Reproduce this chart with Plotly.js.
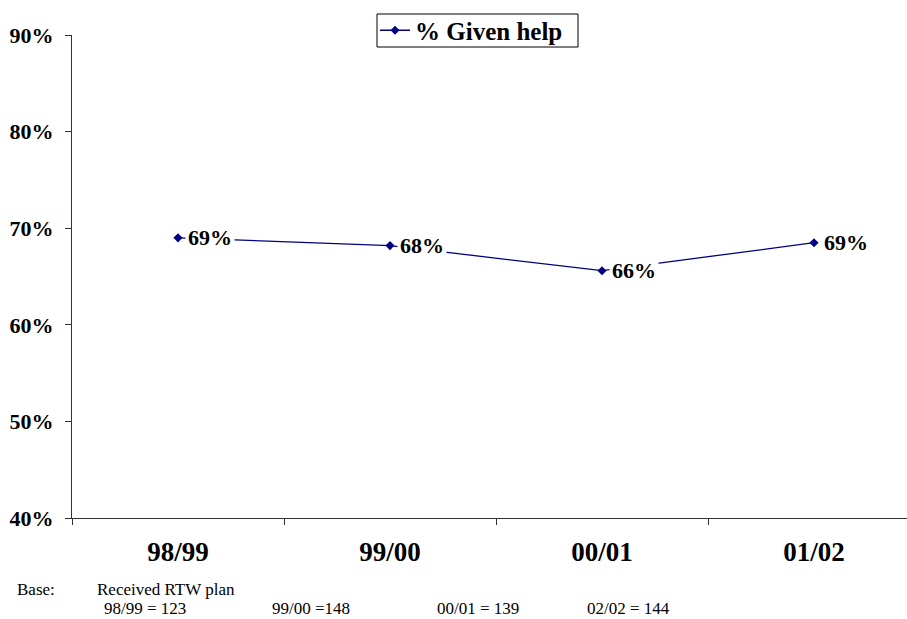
<!DOCTYPE html>
<html><head><meta charset="utf-8">
<script src="https://cdn.plot.ly/plotly-3.0.1.min.js"></script>
<style>html,body{margin:0;padding:0;background:#fff}#chart{width:907px;height:619px}</style>
</head><body><div id="chart"></div>
<script>
const categories = ["98/99", "99/00", "00/01", "01/02"];
const givenHelp = [69.0, 68.2, 65.6, 68.5];
const valueLabels = ["69%", "68%", "66%", "69%"];
const yTicks = [40, 50, 60, 70, 80, 90];
const yTickLabels = ["40%", "50%", "60%", "70%", "80%", "90%"];
const seriesName = "% Given help";
const baseLabel = "Base:";
const baseTitle = "Received RTW plan";
const baseCounts = ["98/99 = 123", "99/00 =148", "00/01 = 139", "02/02 = 144"];

const xIdx = categories.map((c, i) => i);
const serif = "Liberation Serif, Times New Roman, serif";
// pixel helpers for the fixed plot area (l=72, t=35, w=835, h=483)
const PX = px => (px - 72) / 835;
const PY = py => (518 - py) / 483;

const trace = {
  x: xIdx, y: givenHelp, type: "scatter", mode: "lines+markers",
  name: "<b>" + seriesName + "</b>",
  line: {color: "#000080", width: 1.3},
  marker: {symbol: "diamond", size: 7, color: "#000080"}
};

const annotations = givenHelp.map((v, i) => ({
  x: xIdx[i], y: v, xref: "x", yref: "y", text: "<b>" + valueLabels[i] + "</b>",
  showarrow: false, xanchor: "left", yanchor: "middle", xshift: 7,
  bgcolor: "#ffffff", borderpad: 2,
  font: {family: serif, size: 22, color: "#000"}
}));
const foot = {family: serif, size: 17, color: "#000"};
annotations.push({xref: "paper", yref: "paper", x: PX(15), y: PY(589), xanchor: "left", yanchor: "middle",
  text: baseLabel, showarrow: false, font: foot});
annotations.push({xref: "paper", yref: "paper", x: PX(95), y: PY(589), xanchor: "left", yanchor: "middle",
  text: baseTitle, showarrow: false, font: foot});
const countX = [102, 270, 435, 585];
baseCounts.forEach((t, i) => annotations.push({xref: "paper", yref: "paper", x: PX(countX[i]), y: PY(608),
  xanchor: "left", yanchor: "middle", text: t, showarrow: false, font: foot}));

const layout = {
  width: 907, height: 619,
  margin: {l: 72, r: 0, t: 35, b: 101, autoexpand: false},
  paper_bgcolor: "#fff", plot_bgcolor: "#fff",
  showlegend: true,
  legend: {x: PX(375), y: PY(30.5), xanchor: "left", yanchor: "middle", borderwidth: 0,
    bgcolor: "rgba(0,0,0,0)", font: {family: serif, size: 25, color: "#000"}, itemwidth: 30},
  shapes: [{type: "rect", xref: "paper", yref: "paper", x0: PX(377), x1: PX(578), y0: PY(47), y1: PY(14),
    line: {color: "#000", width: 1}, fillcolor: "rgba(0,0,0,0)", layer: "above"}],
  xaxis: {range: [-0.5, 3.4387], tickvals: xIdx, ticktext: categories.map(c => "<b>" + c + "</b>"),
    ticks: "", showgrid: false, zeroline: false, showline: true, linecolor: "#333", linewidth: 1,
    tickfont: {family: serif, size: 27, color: "#000"}, ticklabelstandoff: 10,
    minor: {tickvals: [-0.5, 0.5, 1.5, 2.5, 3.5], ticks: "outside", ticklen: 6, tickcolor: "#333", showgrid: false}},
  yaxis: {range: [40, 90], tickvals: yTicks, ticktext: yTickLabels.map(t => "<b>" + t + "</b>"),
    ticks: "outside", ticklen: 6, tickcolor: "#333", showgrid: false, zeroline: false,
    showline: true, linecolor: "#333", linewidth: 1, ticklabelstandoff: 7,
    tickfont: {family: serif, size: 22, color: "#000"}},
  annotations: annotations
};
Plotly.newPlot("chart", [trace], layout, {displayModeBar: false});
</script></body></html>
